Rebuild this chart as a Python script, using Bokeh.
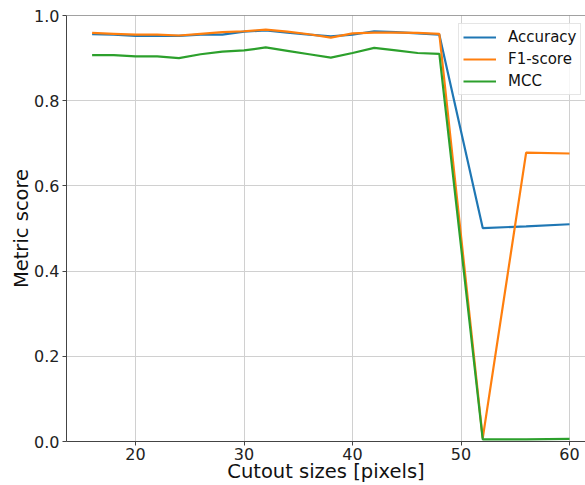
from bokeh.plotting import figure
from bokeh.models import Range1d, FixedTicker, PrintfTickFormatter, Span, Legend, LegendItem
from bokeh.embed import file_html
from bokeh.resources import INLINE

# Data
cutout_sizes = [16, 18, 20, 22, 24, 26, 28, 30, 32, 34, 36, 38, 40, 42, 44, 46, 48, 52, 56, 60]
accuracy = [0.956, 0.955, 0.952, 0.952, 0.952, 0.955, 0.955, 0.962, 0.965, 0.960, 0.955, 0.951,
            0.955, 0.963, 0.961, 0.958, 0.955, 0.501, 0.505, 0.510]
f1_score = [0.959, 0.957, 0.955, 0.955, 0.953, 0.957, 0.961, 0.963, 0.967, 0.962, 0.956, 0.948,
            0.958, 0.960, 0.960, 0.959, 0.957, 0.008, 0.678, 0.676]
mcc = [0.907, 0.907, 0.904, 0.904, 0.900, 0.909, 0.915, 0.918, 0.925, 0.917, 0.909, 0.901,
       0.912, 0.924, 0.918, 0.912, 0.910, 0.005, 0.005, 0.006]
series_names = ["Accuracy", "F1-score", "MCC"]
x_ticks = [20, 30, 40, 50, 60]
y_ticks = [0.0, 0.2, 0.4, 0.6, 0.8, 1.0]
x_title = "Cutout sizes [pixels]"
y_title = "Metric score"

FONT = "DejaVu Sans"

p = figure(width=585, height=485, output_backend="svg", toolbar_location=None,
           x_range=Range1d(13.64, 61.47), y_range=Range1d(0, 1.0),
           min_border_left=66, min_border_right=0, min_border_top=15, min_border_bottom=41)
p.outline_line_color = None
p.background_fill_color = "white"
p.border_fill_color = "white"

colors = ["#1f77b4", "#ff7f0e", "#2ca02c"]
renderers = []
for ys, c in zip([accuracy, f1_score, mcc], colors):
    r = p.line(cutout_sizes, ys, line_color=c, line_width=2.2)
    renderers.append(r)

# top spine
p.add_layout(Span(location=1.0, dimension="width", line_color="#444444", line_width=1))

for ax in (p.xaxis[0], p.yaxis[0]):
    ax.axis_line_color = "#444444"
    ax.major_tick_line_color = "#444444"
    ax.major_tick_out = 4
    ax.major_tick_in = 0
    ax.minor_tick_line_color = None
    ax.major_label_text_font = FONT
    ax.major_label_text_font_size = "16px"
    ax.major_label_text_color = "#222222"
    ax.axis_label_text_font = FONT
    ax.axis_label_text_font_size = "19.5px"
    ax.axis_label_text_font_style = "normal"
    ax.axis_label_text_color = "#111111"

p.xaxis[0].ticker = FixedTicker(ticks=x_ticks)
p.yaxis[0].ticker = FixedTicker(ticks=y_ticks)
p.yaxis[0].formatter = PrintfTickFormatter(format="%.1f")
p.xaxis[0].axis_label = x_title
p.yaxis[0].axis_label = y_title
p.xaxis[0].major_label_standoff = 2
p.xaxis[0].axis_label_standoff = -3
p.yaxis[0].major_label_standoff = 3
p.yaxis[0].axis_label_standoff = -2

p.xgrid[0].ticker = FixedTicker(ticks=x_ticks)
p.ygrid[0].ticker = FixedTicker(ticks=y_ticks)
for g in (p.xgrid[0], p.ygrid[0]):
    g.grid_line_color = "#d0d0d0"
    g.grid_line_width = 1

legend = Legend(items=[LegendItem(label=n, renderers=[r]) for n, r in zip(series_names, renderers)],
                location=(392, 346))
legend.label_text_font = FONT
legend.label_text_font_size = "15px"
legend.label_text_color = "#111111"
legend.glyph_width = 33
legend.glyph_height = 16
legend.label_standoff = 12
legend.spacing = 4
legend.padding = 4
legend.margin = 0
legend.border_line_color = "#cccccc"
legend.border_line_width = 1
legend.background_fill_color = "white"
legend.background_fill_alpha = 0.8
p.add_layout(legend)

open("out.html", "w").write(file_html(p, INLINE))
